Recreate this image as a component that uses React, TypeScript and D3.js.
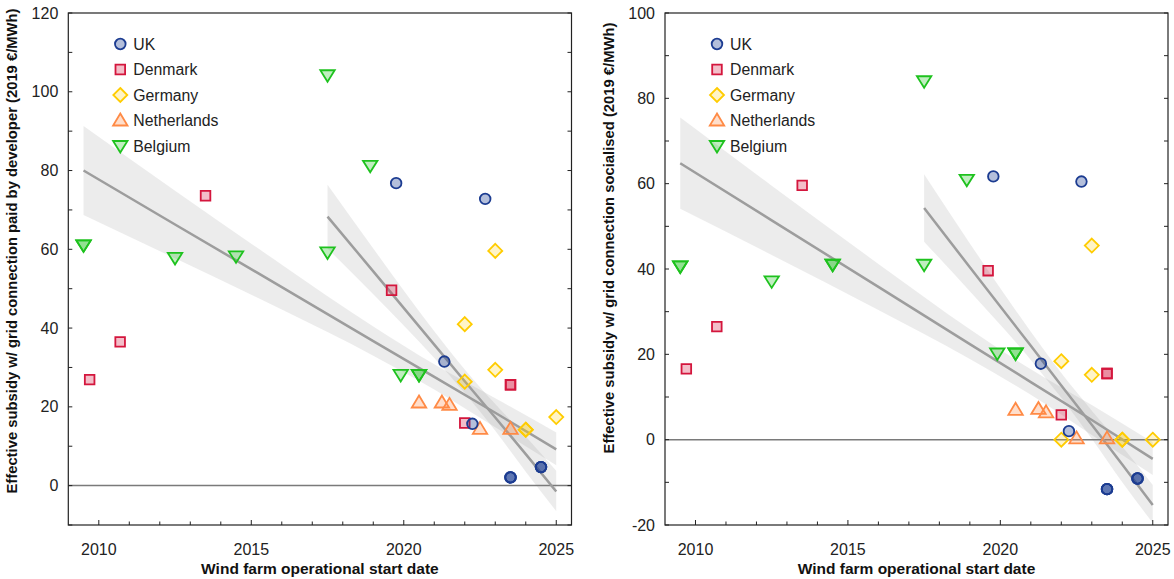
import React from 'react';
import * as d3 from 'd3';

// ---- data ----
const countries = ['UK', 'Denmark', 'Germany', 'Netherlands', 'Belgium'];

// left panel: grid connection paid by developer
const ukYearsL = [2019.75, 2022.67, 2021.33, 2022.25, 2023.5, 2023.5, 2023.5, 2024.5, 2024.5, 2024.5];
const ukValsL = [76.8, 72.8, 31.5, 15.7, 2.1, 2.1, 2.1, 4.7, 4.7, 4.7];
const dkYearsL = [2009.7, 2010.7, 2013.5, 2019.6, 2022, 2023.5, 2023.5];
const dkValsL = [26.9, 36.5, 73.6, 49.6, 15.9, 25.6, 25.6];
const deYearsL = [2023, 2022, 2023, 2022, 2024, 2024, 2025];
const deValsL = [59.6, 41.0, 29.4, 26.4, 14.2, 14.2, 17.4];
const nlYearsL = [2020.5, 2021.25, 2021.5, 2022.5, 2023.5];
const nlValsL = [21.1, 21.1, 20.5, 14.4, 14.4];
const beYearsL = [2009.5, 2009.5, 2012.5, 2014.5, 2017.5, 2017.5, 2018.9, 2019.9, 2020.5, 2020.5];
const beValsL = [61, 61, 57.8, 58.2, 104.2, 59.2, 81.2, 28.1, 28.1, 28.1];

// right panel: grid connection socialised
const ukYearsR = [2019.77, 2022.66, 2021.33, 2022.25, 2023.5, 2023.5, 2023.5, 2024.5, 2024.5, 2024.5];
const ukValsR = [61.7, 60.5, 17.8, 2.0, -11.6, -11.6, -11.6, -9.1, -9.1, -9.1];
const dkYearsR = [2009.7, 2010.7, 2013.5, 2019.6, 2022, 2023.5, 2023.5];
const dkValsR = [16.6, 26.5, 59.6, 39.6, 5.8, 15.5, 15.5];
const deYearsR = [2023, 2022, 2023, 2022, 2024, 2024, 2025];
const deValsR = [45.5, 18.4, 15.2, 0, 0, 0, 0];
const nlYearsR = [2020.5, 2021.25, 2021.5, 2022.5, 2023.5];
const nlValsR = [7.0, 7.2, 6.4, 0.3, 0.3];
const beYearsR = [2009.5, 2009.5, 2012.5, 2014.5, 2014.5, 2017.5, 2017.5, 2018.9, 2019.9, 2020.5, 2020.5];
const beValsR = [40.6, 40.6, 37.1, 41.0, 41.0, 84.0, 41.0, 60.9, 20.2, 20.2, 20.2];

// regression fits with confidence bands
const fitAllYears = [2009.5, 2012.5, 2016, 2019, 2021, 2023, 2025];
const fitAllLineL = [80.0, 66.3, 50.4, 36.7, 27.6, 18.5, 9.2];
const fitAllHiL = [91.3, 74.9, 56.1, 40.4, 30.8, 22.2, 13.5];
const fitAllLoL = [68.7, 57.7, 44.7, 33.0, 24.4, 14.8, 5.2];
const fitAllLineR = [64.8, 51.4, 35.8, 22.4, 13.5, 4.6, -4.5];
const fitAllHiR = [75.5, 59.5, 41.2, 25.9, 16.5, 8.1, -0.6];
const fitAllLoR = [54.1, 43.3, 30.4, 18.9, 10.5, 1.1, -8.3];

const fitRecentYears = [2017.5, 2019, 2021, 2022, 2023, 2024, 2025];
const fitRecentLineL = [68.3, 54.4, 35.8, 26.5, 17.3, 8.0, -1.5];
const fitRecentHiL = [76.4, 60.2, 39.2, 29.5, 20.7, 12.5, 3.8];
const fitRecentLoL = [60.2, 48.6, 32.4, 23.5, 13.9, 3.5, -6.5];
const fitRecentLineR = [54.3, 40.4, 22.0, 12.7, 3.5, -5.8, -15.3];
const fitRecentHiR = [62.2, 46.0, 25.3, 15.6, 6.8, -1.6, -10.6];
const fitRecentLoR = [46.4, 34.8, 18.7, 9.8, 0.2, -10.0, -19.5];

const xTickYears = [2010, 2015, 2020, 2025];
const yLabelsL = [0, 20, 40, 60, 80, 100, 120];
const yLabelsR = [-20, 0, 20, 40, 60, 80, 100];

const colors: Record<string, string> = {
  UK: '#1c3c91',
  Denmark: '#d4163d',
  Germany: '#ffcc00',
  Netherlands: '#ff8a45',
  Belgium: '#1ec21e',
};
const fillOpacity: Record<string, number> = {
  UK: 0.33,
  Denmark: 0.28,
  Germany: 0.22,
  Netherlands: 0.28,
  Belgium: 0.28,
};

function markerPath(country: string): string {
  switch (country) {
    case 'UK':
      return d3.symbol(d3.symbolCircle, Math.PI * 5.3 * 5.3)()!;
    case 'Denmark':
      return 'M-4.8,-4.8H4.8V4.8H-4.8Z';
    case 'Germany':
      return 'M0,-7L7,0L0,7L-7,0Z';
    case 'Netherlands':
      return 'M0,-7L7.2,5L-7.2,5Z';
    default:
      return 'M0,6.5L7.2,-5L-7.2,-5Z';
  }
}

const font = "'Liberation Sans', Arial, Helvetica, sans-serif";

type Series = { country: string; years: number[]; vals: number[] };
type Fit = { years: number[]; line: number[]; hi: number[]; lo: number[] };

function Panel({ x0, x1, yDomain, yLabels, series, fits, yTitle, yTitleY }: {
  x0: number; x1: number; yDomain: [number, number]; yLabels: number[]; series: Series[]; fits: Fit[]; yTitle: string; yTitleY: number;
}) {
  const top = 13;
  const bottom = 525;
  const x = d3.scaleLinear().domain([2009, 2025.5]).range([x0, x1]);
  const y = d3.scaleLinear().domain(yDomain).range([bottom, top]);

  const yTicks = d3.range(yDomain[0], yDomain[1] + 0.1, 10);
  const xMinor = d3.range(2010, 2026, 1);

  // draw in reverse legend order so UK sits on top
  const drawOrder = [...series].reverse();

  return (
    <g fontFamily={font}>
      {/* confidence bands */}
      {fits.map((f, k) => {
        const band = d3.area<number>()
          .x((_, i) => x(f.years[i]))
          .y0((_, i) => y(f.lo[i]))
          .y1((_, i) => y(f.hi[i]))
          .curve(d3.curveMonotoneX);
        return <path key={'b' + k} d={band(f.years)!} fill="rgb(140,140,140)" fillOpacity={0.17} />;
      })}
      {/* zero line */}
      <line x1={x0} x2={x1} y1={y(0)} y2={y(0)} stroke="#7a7a7a" strokeWidth={1.5} />
      {/* fit lines */}
      {fits.map((f, k) => {
        const line = d3.line<number>()
          .x((_, i) => x(f.years[i]))
          .y((_, i) => y(f.line[i]));
        return <path key={'l' + k} d={line(f.years)!} fill="none" stroke="#9d9d9d" strokeWidth={2.5} />;
      })}
      {/* markers */}
      {drawOrder.map(s => s.years.map((yr, i) => (
        <path key={s.country + i} d={markerPath(s.country)}
          transform={`translate(${x(yr)},${y(s.vals[i])})`}
          fill={colors[s.country]} fillOpacity={fillOpacity[s.country]}
          stroke={colors[s.country]} strokeWidth={1.8} />
      )))}
      {/* frame */}
      <rect x={x0} y={top} width={x1 - x0} height={bottom - top} fill="none" stroke="#222" strokeWidth={1.2} />
      {yTicks.map(t => (
        <g key={'yt' + t}>
          <line x1={x0} x2={x0 + 4} y1={y(t)} y2={y(t)} stroke="#222" />
          <line x1={x1} x2={x1 - 4} y1={y(t)} y2={y(t)} stroke="#222" />
        </g>
      ))}
      {yLabels.map(t => (
        <text key={'yl' + t} x={x0 - 10} y={y(t)} dy="0.35em" textAnchor="end" fontSize={16} fill="#222">{t}</text>
      ))}
      {xMinor.map(t => (
        <line key={'xt' + t} x1={x(t)} x2={x(t)} y1={bottom} y2={bottom - (t % 5 === 0 ? 5 : 3.5)} stroke="#222" />
      ))}
      {xTickYears.map(t => (
        <text key={'xl' + t} x={x(t)} y={555} textAnchor="middle" fontSize={16} fill="#222">{t}</text>
      ))}
      <text x={(x0 + x1) / 2} y={574} textAnchor="middle" fontSize={15.5} fontWeight="bold" fill="#111">
        Wind farm operational start date
      </text>
      <text transform={`translate(${x0 - 51},${yTitleY}) rotate(-90)`} textAnchor="middle" fontSize={14.8} fontWeight="bold" fill="#111">
        {yTitle}
      </text>
      {/* legend */}
      {countries.map((c, i) => (
        <g key={'lg' + c} transform={`translate(${x0 + 52},${44 + i * 25.5})`}>
          <path d={markerPath(c)} fill={colors[c]} fillOpacity={fillOpacity[c]} stroke={colors[c]} strokeWidth={1.8} />
          <text x={13} y={0} dy="0.35em" fontSize={15.8} fill="#222">{c}</text>
        </g>
      ))}
    </g>
  );
}

export default function App() {
  const leftSeries: Series[] = [
    { country: 'UK', years: ukYearsL, vals: ukValsL },
    { country: 'Denmark', years: dkYearsL, vals: dkValsL },
    { country: 'Germany', years: deYearsL, vals: deValsL },
    { country: 'Netherlands', years: nlYearsL, vals: nlValsL },
    { country: 'Belgium', years: beYearsL, vals: beValsL },
  ];
  const rightSeries: Series[] = [
    { country: 'UK', years: ukYearsR, vals: ukValsR },
    { country: 'Denmark', years: dkYearsR, vals: dkValsR },
    { country: 'Germany', years: deYearsR, vals: deValsR },
    { country: 'Netherlands', years: nlYearsR, vals: nlValsR },
    { country: 'Belgium', years: beYearsR, vals: beValsR },
  ];
  const leftFits: Fit[] = [
    { years: fitAllYears, line: fitAllLineL, hi: fitAllHiL, lo: fitAllLoL },
    { years: fitRecentYears, line: fitRecentLineL, hi: fitRecentHiL, lo: fitRecentLoL },
  ];
  const rightFits: Fit[] = [
    { years: fitAllYears, line: fitAllLineR, hi: fitAllHiR, lo: fitAllLoR },
    { years: fitRecentYears, line: fitRecentLineR, hi: fitRecentHiR, lo: fitRecentLoR },
  ];

  return (
    <svg width={1174} height={579} style={{ position: 'absolute', left: 0, top: 0, background: '#fff' }}>
      <Panel x0={68.3} x1={571.5} yDomain={[-10, 120]} yLabels={yLabelsL} series={leftSeries} fits={leftFits}
        yTitle="Effective subsidy w/ grid connection paid by developer (2019 €/MWh)" yTitleY={251} />
      <Panel x0={665} x1={1168} yDomain={[-20, 100]} yLabels={yLabelsR} series={rightSeries} fits={rightFits}
        yTitle="Effective subsidy w/ grid connection socialised (2019 €/MWh)" yTitleY={238} />
    </svg>
  );
}
